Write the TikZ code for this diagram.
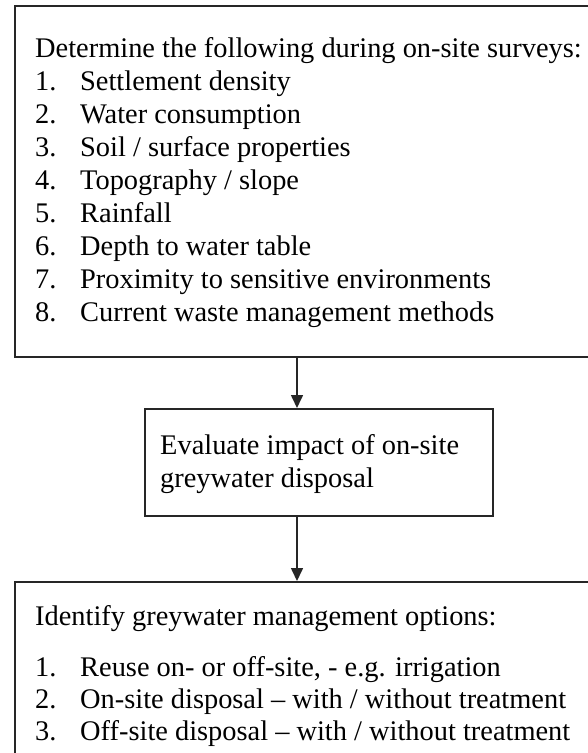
\documentclass[tikz,border=0pt]{standalone}
\usepackage{fontspec}
\setmainfont{Liberation Serif}
\usetikzlibrary{arrows.meta,positioning}

\begin{document}
\begin{tikzpicture}[x=1pt, y=-1pt,
  every node/.style={font=\fontsize{28.4}{33}\selectfont, inner sep=0pt},
  box/.style={draw=black!85, line width=1.6pt, anchor=north west},
  txt/.style={anchor=base west},
  flow/.style={-{Triangle[width=12pt,length=13pt]}, line width=1.6pt, black!85},
]
\useasboundingbox (0,0) rectangle (588,753);

% === Boxes ===
\node[box, minimum width=620pt, minimum height=351pt] (survey) at (14,5) {};
\node[box, minimum width=348pt, minimum height=107pt] (impact) at (144,408) {};
\node[box, minimum width=620pt, minimum height=200pt] (options) at (14,581) {};

% === Survey list ===
\node[txt] (surveyhead) at (35,57) {Determine the following during on-site surveys:};
\foreach \t [count=\k] in {{Settlement density}, {Water consumption},
    {Soil / surface properties}, {Topography / slope}, {Rainfall},
    {Depth to water table}, {Proximity to sensitive environments},
    {Current waste management methods}} {
  \node[txt] (sn\k) at (35,57+33*\k) {\k.};
  \node[txt] (st\k) at (80,57+33*\k) {\t};
}

% === Impact ===
\node[txt] (impact1) at (160,454) {Evaluate impact of on-site};
\node[txt] (impact2) at (160,487) {greywater disposal};

% === Options list ===
\node[txt] (optionshead) at (35,625) {Identify greywater management options:};
\foreach \t [count=\k] in {{Reuse on- or off-site, - e.g. irrigation},
    {On-site disposal -- with / without treatment},
    {Off-site disposal -- with / without treatment}} {
  \node[txt] (on\k) at (35,644+32*\k) {\k.};
  \node[txt] (ot\k) at (80,644+32*\k) {\t};
}

% === Arrows ===
\coordinate (axis) at (297,0);
\draw[flow] (survey.south -| axis) -- (impact.north -| axis);
\draw[flow] (impact.south -| axis) -- (options.north -| axis);

\end{tikzpicture}
\end{document}
